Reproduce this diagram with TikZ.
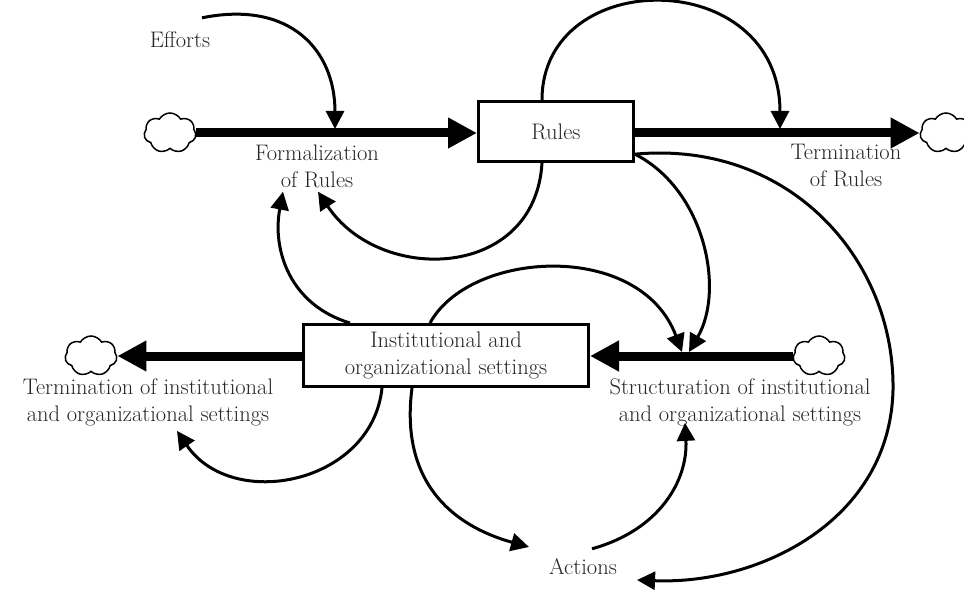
\documentclass[tikz,border=0pt]{standalone}
\usepackage{fontspec}
\usepackage{xcolor}
\usetikzlibrary{arrows.meta,calc,shapes.symbols}

\tikzset{
  lbl/.style={font=\fontsize{22.5}{27}\selectfont, align=center, inner sep=0pt, text=black!85},
  stock/.style={lbl, draw, line width=3pt},
  puff/.style={cloud, cloud puffs=7, cloud puff arc=120, cloud ignores aspect, draw, line width=1.5pt,
    minimum width=52pt, minimum height=40pt, inner sep=0pt},
  flow/.style={line width=9pt, -{Triangle[length=29pt,width=29pt]}},
  link/.style={line width=3pt, -{Triangle[length=18pt,width=18pt]}},
}

\begin{document}
\begin{tikzpicture}[x=1pt,y=-1pt]
    \useasboundingbox (0,0) rectangle (964,591);
    % --- stocks
    \node[stock, minimum width=155pt, minimum height=60pt] (rules) at (556,131.5) {Rules};
    \node[stock, minimum width=285pt, minimum height=62pt] (inst) at (446,355.5) {Institutional and\\organizational settings};
    % --- clouds
    \node[puff] (c1) at (170,133) {};
    \node[puff] (c2) at (946,133) {};
    \node[puff] (c3) at (91,356) {};
    \node[puff] (c4) at (819,356) {};
    % --- labels
    \node[lbl] (eff) at (180,40) {Efforts};
    \node[lbl] (form) at (317,166) {Formalization\\of Rules};
    \node[lbl] (trm) at (846,166) {Termination\\of Rules};
    \node[lbl] (trmi) at (148,402) {Termination of institutional\\and organizational settings};
    \node[lbl] (str) at (740,402) {Structuration of institutional\\and organizational settings};
    \node[lbl] (act) at (583,567) {Actions};
    % --- valves
    \coordinate (v1) at (335,129);
    \coordinate (v2) at (780,129);
    \coordinate (v3) at (682,352);
    \coordinate (v4) at (689,352);
    % --- flows
    \draw[flow] (c1.east) -- (c1.east -| rules.west);
    \draw[flow] (rules.east |- c2.west) -- (c2.west);
    \draw[flow] (inst.west |- c3.east) -- (c3.east);
    \draw[flow] (c4.west) -- (c4.west -| inst.east);
    % --- links
    \draw[link] ([shift={(22,-14)}]eff.north) .. controls (290,0) and (335,50) .. (v1);
    \draw[link] ([xshift=-14pt]rules.north) .. controls (542,-35) and (780,-35) .. (v2);
    \draw[link] ([xshift=-14pt]rules.south) .. controls (535,280) and (380,285) .. ([shift={(1,4)}]form.south);
    \draw[link] ([xshift=-96pt]inst.north) .. controls (290,305) and (272,250) .. ([shift={(-34,4)}]form.south);
    \draw[link] ([xshift=-16pt]inst.north) .. controls (470,250) and (640,240) .. (v3);
    \draw[link] (rules.-16) .. controls (705,190) and (725,290) .. (v4);
    \draw[link] (rules.-16) .. controls (790,140) and (895,260) .. (893,390)
      .. controls (890,520) and (760,585) .. ([shift={(20,13)}]act.east);
    \draw[link] ([shift={(9,-10)}]act.north) .. controls (660,530) and (688,480) .. ([shift={(-55,-3)}]str.south);
    \draw[link] ([xshift=-34pt]inst.south) .. controls (400,480) and (450,525) .. ([shift={(-20,-20)}]act.west);
    \draw[link] ([xshift=-64pt]inst.south) .. controls (372,484) and (232,512) .. ([shift={(29,5)}]trmi.south);
\end{tikzpicture}
\end{document}
